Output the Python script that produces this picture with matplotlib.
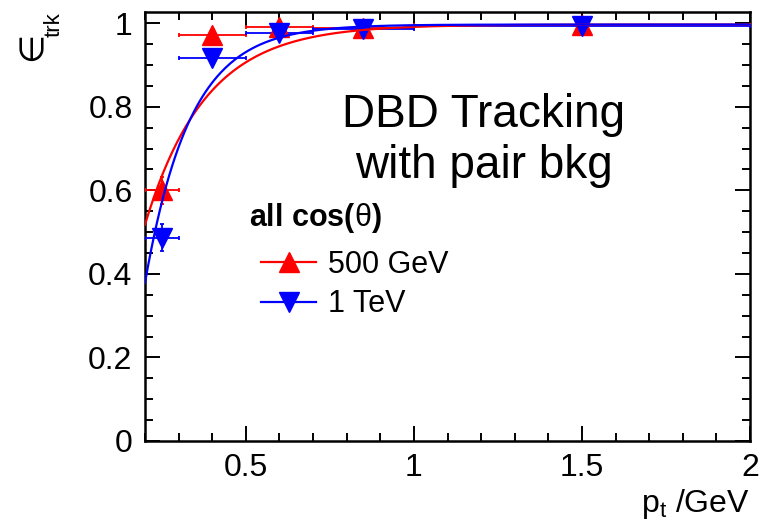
import numpy as np
import matplotlib
matplotlib.use("Agg")
import matplotlib.pyplot as plt
from matplotlib.lines import Line2D
from matplotlib.ticker import MultipleLocator

plt.rcParams['font.family'] = ['Liberation Sans', 'DejaVu Sans']
plt.rcParams['mathtext.fontset'] = 'custom'
plt.rcParams['mathtext.rm'] = 'Liberation Sans'
plt.rcParams['mathtext.it'] = 'Liberation Sans'

# === pt bins and efficiencies ===
pt_centre = [0.25, 0.40, 0.60, 0.85, 1.50]
pt_halfwidth = [0.05, 0.10, 0.10, 0.15, 0.50]

eff_500 = [0.600, 0.971, 0.991, 0.989, 0.996]
err_500 = [0.032, 0.010, 0.005, 0.004, 0.003]

eff_1000 = [0.487, 0.917, 0.977, 0.986, 0.993]
err_1000 = [0.032, 0.010, 0.005, 0.004, 0.003]

# fit parameters: eff = A * (1 - exp(-(pt - x0) / tau))
fit_500 = (0.997, 0.068, 0.180)
fit_1000 = (0.997, 0.136, 0.134)

series = [
    ("500 GeV", eff_500, err_500, fit_500, "red", "^"),
    ("1 TeV", eff_1000, err_1000, fit_1000, "blue", "v"),
]


def turn_on(pt, A, x0, tau):
    return A * (1 - np.exp(-(pt - x0) / tau))


fig = plt.figure(figsize=(7.64, 5.25), dpi=100)
ax = fig.add_axes([145 / 764, 1 - 441 / 525, 605 / 764, 429 / 525])

pt_fine = np.linspace(0.2, 2.0, 400)
handles = []
for label, eff, err, pars, col, mk in series:
    ax.errorbar(pt_centre, eff, xerr=pt_halfwidth, yerr=err, fmt=mk, color=col,
                ms=14, elinewidth=1.3, capsize=1.5, capthick=1.3, zorder=3)
    ax.plot(pt_fine, turn_on(pt_fine, *pars), color=col, lw=1.6, zorder=4)
    handles.append(Line2D([], [], color=col, lw=1.6, marker=mk, ms=14))

ax.set_xlim(0.2, 2.0)
ax.set_ylim(0, 1.027)

ax.xaxis.set_minor_locator(MultipleLocator(0.1))
ax.yaxis.set_minor_locator(MultipleLocator(0.05))
ax.set_xticks([0.5, 1.0, 1.5, 2.0])
ax.set_xticklabels(["0.5", "1", "1.5", "2"])
ax.set_yticks([0, 0.2, 0.4, 0.6, 0.8, 1.0])
ax.set_yticklabels(["0", "0.2", "0.4", "0.6", "0.8", "1"])

ax.tick_params(which='both', direction='in', top=True, right=True, width=1.4,
               labelsize=23)
ax.tick_params(which='major', length=11, pad=9)
ax.tick_params(which='minor', length=6)
for sp in ax.spines.values():
    sp.set_linewidth(1.8)

# axis titles, ROOT style: placed at the ends of the axes
fig.text(32 / 764, 1 - 46 / 525, "\u2208", rotation=90, ha='center',
         va='center', fontsize=24, family='DejaVu Sans')
fig.text(54 / 764, 1 - 25 / 525, "trk", rotation=90, ha='center',
         va='center', fontsize=16)
fig.text(750 / 764, 1 - 512 / 525, r"p$_{\rm t}$ /GeV", ha='right',
         va='baseline', fontsize=23)

ax.text(0.560, 0.732, "DBD Tracking", transform=ax.transAxes, fontsize=33,
        ha='center', va='baseline')
ax.text(0.560, 0.613, "with pair bkg", transform=ax.transAxes, fontsize=33,
        ha='center', va='baseline')

ax.text(0.172, 0.501, r"all cos($\theta$)", transform=ax.transAxes,
        fontsize=22, fontweight='bold', va='baseline')
ax.legend(handles, [s[0] for s in series], loc='upper left',
          bbox_to_anchor=(0.192, 0.445), frameon=False, fontsize=22,
          borderpad=0, borderaxespad=0, handlelength=1.8, handletextpad=0.4,
          labelspacing=0.3)

fig.savefig("out.png", dpi=100)
